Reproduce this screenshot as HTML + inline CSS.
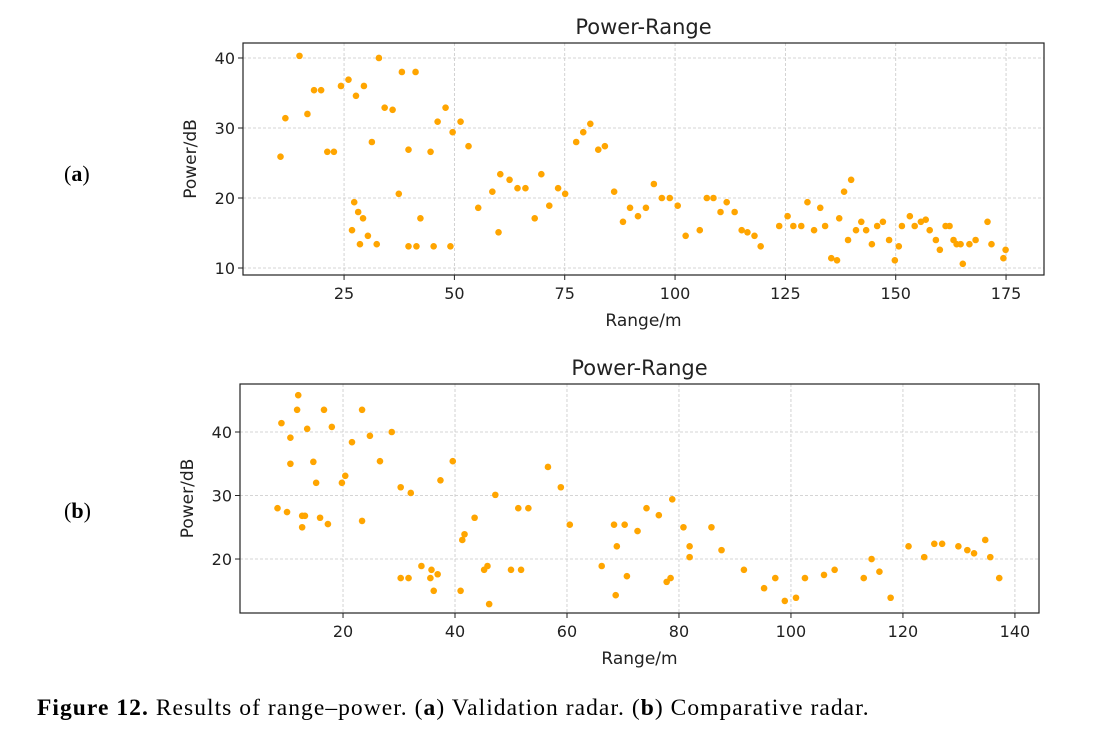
<!DOCTYPE html>
<html><head><meta charset="utf-8"><style>
body{margin:0;background:#fff;width:1107px;height:736px;overflow:hidden;position:relative;font-family:"DejaVu Sans","Liberation Sans",sans-serif}
.lbl{position:absolute;font-family:"Liberation Serif",serif;font-size:22px;color:#000}
#cap{position:absolute;left:37px;top:695px;font-family:"Liberation Serif",serif;font-size:23.5px;letter-spacing:1.05px;white-space:nowrap}
</style></head><body>
<svg id="chart" width="1107" height="736" style="position:absolute;left:0;top:0"></svg>
<div class="lbl" style="left:64px;top:161px">(<b>a</b>)</div>
<div class="lbl" style="left:64px;top:498px">(<b>b</b>)</div>
<div id="cap"><b>Figure 12.</b> Results of range–power. (<b>a</b>) Validation radar. (<b>b</b>) Comparative radar.</div>
<script>
const rangeA=[10.6,11.7,14.9,16.7,18.2,19.8,21.2,22.7,24.3,26.0,27.7,29.5,26.8,27.3,28.2,28.6,29.3,30.4,31.3,32.4,32.9,34.2,36.0,37.4,38.1,39.6,39.6,41.2,41.4,42.3,44.6,45.3,46.2,48.0,49.1,49.6,51.4,53.2,55.4,58.6,60.0,60.4,62.5,64.3,66.1,68.2,69.7,71.5,73.5,75.1,77.6,79.2,80.8,82.6,84.1,86.2,88.2,89.8,91.6,93.4,95.2,97.0,98.8,100.6,102.4,105.6,107.2,108.7,110.3,111.7,113.5,115.1,116.4,118.0,119.4,123.6,125.5,126.8,128.6,130.0,131.5,132.9,134.0,135.4,136.7,137.2,138.3,139.2,139.9,141.0,142.2,143.3,144.6,145.8,147.1,148.5,149.8,150.7,151.4,153.2,154.3,155.7,156.8,157.7,159.1,160.0,161.3,162.2,163.1,163.8,164.7,165.2,166.7,168.1,170.8,171.7,174.4,174.9];
const powerA=[25.9,31.4,40.3,32.0,35.4,35.4,26.6,26.6,36.0,36.9,34.6,36.0,15.4,19.4,18.0,13.4,17.1,14.6,28.0,13.4,40.0,32.9,32.6,20.6,38.0,26.9,13.1,38.0,13.1,17.1,26.6,13.1,30.9,32.9,13.1,29.4,30.9,27.4,18.6,20.9,15.1,23.4,22.6,21.4,21.4,17.1,23.4,18.9,21.4,20.6,28.0,29.4,30.6,26.9,27.4,20.9,16.6,18.6,17.4,18.6,22.0,20.0,20.0,18.9,14.6,15.4,20.0,20.0,18.0,19.4,18.0,15.4,15.1,14.6,13.1,16.0,17.4,16.0,16.0,19.4,15.4,18.6,16.0,11.4,11.1,17.1,20.9,14.0,22.6,15.4,16.6,15.4,13.4,16.0,16.6,14.0,11.1,13.1,16.0,17.4,16.0,16.6,16.9,15.4,14.0,12.6,16.0,16.0,14.0,13.4,13.4,10.6,13.4,14.0,16.6,13.4,11.4,12.6];
const rangeB=[8.3,9.0,10.0,10.6,10.6,11.8,12.0,12.7,12.7,13.2,13.6,14.7,15.2,15.9,16.6,17.3,18.0,19.8,20.4,21.6,23.4,23.4,24.8,26.6,28.7,30.3,30.3,31.7,32.1,34.0,35.6,35.8,36.2,36.9,37.4,39.6,41.0,41.3,41.7,43.5,45.2,45.8,46.1,47.2,50.0,51.3,51.8,53.1,56.6,58.9,60.5,66.2,68.4,68.7,68.9,70.3,70.7,72.6,74.2,76.4,77.8,78.5,78.8,80.8,81.9,81.9,85.8,87.6,91.6,95.2,97.2,98.9,100.9,102.5,105.9,107.8,113.0,114.4,115.8,117.8,121.0,123.8,125.6,127.0,129.9,131.5,132.7,134.7,135.6,137.2];
const powerB=[28.0,41.4,27.4,39.1,35.0,43.5,45.8,26.8,25.0,26.8,40.5,35.3,32.0,26.5,43.5,25.5,40.8,32.0,33.1,38.4,43.5,26.0,39.4,35.4,40.0,17.0,31.3,17.0,30.4,18.9,17.0,18.3,15.0,17.6,32.4,35.4,15.0,23.0,23.9,26.5,18.3,18.9,12.9,30.1,18.3,28.0,18.3,28.0,34.5,31.3,25.4,18.9,25.4,14.3,22.0,25.4,17.3,24.4,28.0,26.9,16.4,17.0,29.4,25.0,22.0,20.3,25.0,21.4,18.3,15.4,17.0,13.4,13.9,17.0,17.5,18.3,17.0,20.0,18.0,13.9,22.0,20.3,22.4,22.4,22.0,21.4,20.9,23.0,20.3,17.0];
const xTicksA=[25,50,75,100,125,150,175];
const yTicksA=[10,20,30,40];
const xTicksB=[20,40,60,80,100,120,140];
const yTicksB=[20,30,40];
const NS='http://www.w3.org/2000/svg';
const svg=document.getElementById('chart');
function mk(tag,attrs,parent){const e=document.createElementNS(NS,tag);for(const k in attrs)e.setAttribute(k,attrs[k]);(parent||svg).appendChild(e);return e;}
function panel(id,box,xd,yd,xs,ys,xt,yt){
  const g=mk('g',{});
  
  
  const X=v=>box.l+(v-xd[0])/(xd[1]-xd[0])*(box.r-box.l);
  const Y=v=>box.b-(v-yd[0])/(yd[1]-yd[0])*(box.b-box.t);
  xt.forEach(v=>{
    const l=mk('line',{x1:X(v),x2:X(v),y1:box.t,y2:box.b,stroke:'#c8c8c8','stroke-dasharray':'3,2','stroke-width':0.8},g);
    
    
    mk('line',{x1:X(v),x2:X(v),y1:box.b,y2:box.b+5,stroke:'#222'},g);
    const t=mk('text',{x:X(v),y:box.b+24,'text-anchor':'middle','font-size':16,fill:'#222'},g);
    
    
    t.textContent=v;
  });
  yt.forEach(v=>{
    const l=mk('line',{x1:box.l,x2:box.r,y1:Y(v),y2:Y(v),stroke:'#c8c8c8','stroke-dasharray':'3,2','stroke-width':0.8},g);
    
    
    mk('line',{x1:box.l-5,x2:box.l,y1:Y(v),y2:Y(v),stroke:'#222'},g);
    const t=mk('text',{x:box.l-8,y:Y(v)+6,'text-anchor':'end','font-size':16,fill:'#222'},g);
    
    
    t.textContent=v;
  });
  xs.forEach((v,i)=>{
    const c=mk('circle',{cx:X(v),cy:Y(ys[i]),r:3.3,fill:'#FFA500'},g);
    
    
  });
  const fr=mk('rect',{x:box.l,y:box.t,width:box.r-box.l,height:box.b-box.t,fill:'none',stroke:'#222','stroke-width':1.2},g);
  
  
  const ti=mk('text',{x:(box.l+box.r)/2,y:box.t-9,'text-anchor':'middle','font-size':21,fill:'#222'},g);
  
  
  ti.textContent='Power-Range';
  const xl=mk('text',{x:(box.l+box.r)/2,y:box.b+51,'text-anchor':'middle','font-size':17,fill:'#222'},g);
  
  
  xl.textContent='Range/m';
  const cy=(box.t+box.b)/2;
  const yl=mk('text',{x:box.l-47,y:cy,'text-anchor':'middle','font-size':17,fill:'#222',transform:'rotate(-90 '+(box.l-47)+' '+cy+')'},g);
  
  
  yl.textContent='Power/dB';
}
panel('a',{l:243,r:1044,t:43,b:275},[2.1,183.6],[9.0,42.14],rangeA,powerA,xTicksA,yTicksA);
panel('b',{l:240,r:1039,t:384,b:613},[1.6,144.3],[11.5,47.56],rangeB,powerB,xTicksB,yTicksB);
</script>
</body></html>
